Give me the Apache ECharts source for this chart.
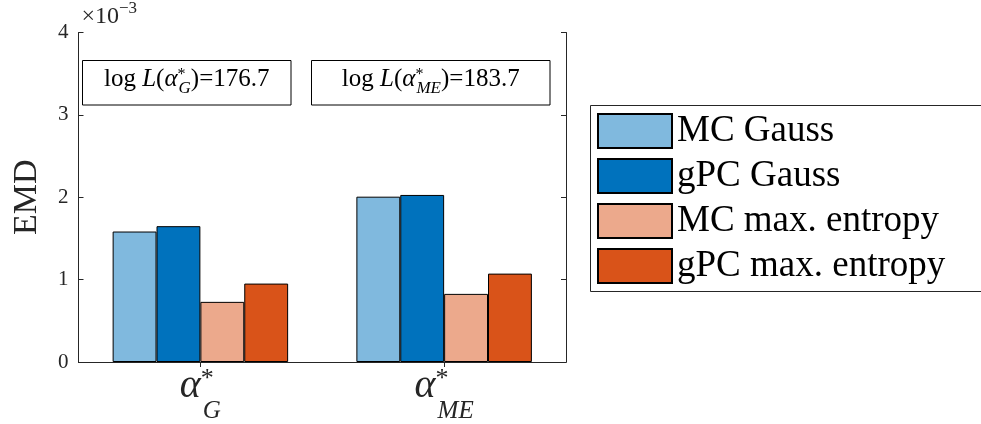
<!DOCTYPE html>
<html><head><meta charset="utf-8">
<script src="https://cdn.jsdelivr.net/npm/echarts@6/dist/echarts.min.js"></script>
<style>html,body{margin:0;padding:0;background:#fff}#c{width:981px;height:424px}</style>
</head><body><div id="c"></div>
<script>
// subscripts of α* for each category
const categories = ['G', 'ME'];
const seriesNames = ['MC Gauss', 'gPC Gauss', 'MC max. entropy', 'gPC max. entropy'];
const mcGauss = [0.001584, 0.002007];
const gpcGauss = [0.001649, 0.002028];
const mcMaxEnt = [0.00073, 0.000827];
const gpcMaxEnt = [0.000952, 0.001073];
const logLikelihood = [176.7, 183.7];
const yMin = 0, yMax = 0.004, yStep = 0.001;

const colors = ['#80B9DE', '#0072BD', '#ECA98C', '#D95319'];
const FF = 'Liberation Serif';
const AX = '#262626';

const seriesData = [mcGauss, gpcGauss, mcMaxEnt, gpcMaxEnt];

const xRich = {
  a: { fontFamily: FF, fontSize: 40, fontStyle: 'italic', color: AX, verticalAlign: 'top', align: 'left' },
  s: { fontFamily: FF, fontSize: 26, color: AX, verticalAlign: 'top', width: 2, align: 'left' },
  b: { fontFamily: FF, fontSize: 25, fontStyle: 'italic', color: AX, verticalAlign: 'bottom', lineHeight: 58, align: 'left' }
};
const annRich = {
  n: { fontFamily: FF, fontSize: 25, color: '#000', verticalAlign: 'top', align: 'left' },
  i: { fontFamily: FF, fontSize: 25, fontStyle: 'italic', color: '#000', verticalAlign: 'top', align: 'left' },
  s: { fontFamily: FF, fontSize: 16, color: '#000', verticalAlign: 'top', width: 1, align: 'left' },
  b: { fontFamily: FF, fontSize: 17, fontStyle: 'italic', color: '#000', verticalAlign: 'bottom', lineHeight: 30, align: 'left' }
};

function annText(k) {
  return '{n|log }{i|L}{n|(}{i|α}{s|*}{b|' + categories[k] + '}{n|)=' + logLikelihood[k].toFixed(1) + '}';
}

const annBoxes = [
  { x: 82.5, y: 60.5, w: 208.5, h: 44.5 },
  { x: 311.5, y: 60.5, w: 238.5, h: 44.5 }
];

const graphic = [];
annBoxes.forEach(function (b, k) {
  graphic.push({ type: 'rect', shape: { x: b.x, y: b.y, width: b.w, height: b.h },
    style: { fill: '#fff', stroke: '#000', lineWidth: 1 }, z: 10 });
  graphic.push({ type: 'text', x: b.x + b.w / 2, y: b.y + b.h / 2 - 1, z: 11,
    style: { text: annText(k), rich: annRich, align: 'center', verticalAlign: 'middle' } });
});
graphic.push({ type: 'rect', shape: { x: 590.5, y: 105.5, width: 400, height: 186 },
  style: { fill: 'none', stroke: AX, lineWidth: 1 }, z: 0 });

const option = {
  animation: false,
  backgroundColor: '#fff',
  grid: { left: 78.5, right: 415, top: 32.5, bottom: 61, containLabel: false },
  legend: {
    orient: 'vertical', left: 597, top: 112.5, padding: 0,
    itemWidth: 74, itemHeight: 34, itemGap: 8,
    icon: 'rect',
    textStyle: { fontFamily: FF, fontSize: 37, color: '#000' },
    data: seriesNames
  },
  xAxis: [
    {
      type: 'category', data: categories, position: 'bottom',
      axisLine: { lineStyle: { color: AX, width: 1 } },
      axisTick: { show: false },
      axisLabel: {
        margin: 4,
        formatter: function (v) { return '{a|α}{s|*}{b|' + v + '}'; },
        rich: xRich
      }
    },
    {
      type: 'category', data: categories, position: 'top',
      axisLine: { lineStyle: { color: AX, width: 1 } },
      axisTick: { show: true, inside: true, alignWithLabel: true, length: 5, lineStyle: { color: AX } },
      axisLabel: { show: false }
    }
  ],
  yAxis: [
    {
      type: 'value', position: 'left', min: yMin, max: yMax, interval: yStep,
      name: '{a|×10}{s|−3}', nameLocation: 'end', nameGap: 4,
      nameTextStyle: {
        align: 'left', verticalAlign: 'bottom', padding: [0, 0, 0, 3],
        rich: {
          a: { fontFamily: FF, fontSize: 24, color: AX, verticalAlign: 'bottom', lineHeight: 28, align: 'left' },
          s: { fontFamily: FF, fontSize: 17, color: AX, verticalAlign: 'top', align: 'left' }
        }
      },
      axisLine: { show: true, lineStyle: { color: AX, width: 1 } },
      axisTick: { show: true, inside: true, length: 5, lineStyle: { color: AX } },
      axisLabel: {
        margin: 10, fontFamily: FF, fontSize: 21, color: AX,
        formatter: function (v) { return String(Math.round(v * 1000)); }
      },
      splitLine: { show: false }
    },
    {
      type: 'value', position: 'right', min: yMin, max: yMax, interval: yStep,
      axisLine: { show: true, lineStyle: { color: AX, width: 1 } },
      axisTick: { show: true, inside: true, length: 5, lineStyle: { color: AX } },
      axisLabel: { show: false },
      splitLine: { show: false }
    },
    {
      type: 'value', position: 'left', min: yMin, max: yMax, interval: yStep,
      name: 'EMD', nameLocation: 'middle', nameGap: 34,
      nameTextStyle: { fontFamily: FF, fontSize: 34, color: AX },
      axisLine: { show: false }, axisTick: { show: false },
      axisLabel: { show: false }, splitLine: { show: false }
    }
  ],
  series: seriesNames.map(function (name, i) {
    return {
      name: name, type: 'bar', xAxisIndex: 0, yAxisIndex: 0,
      data: seriesData[i],
      barGap: '0%', barCategoryGap: '28%',
      itemStyle: { color: colors[i], borderColor: '#000', borderWidth: 1 },
      emphasis: { disabled: true }
    };
  }),
  graphic: graphic
};

const chart = echarts.init(document.getElementById('c'), null, { renderer: 'canvas' });
chart.setOption(option);
</script>
</body></html>
